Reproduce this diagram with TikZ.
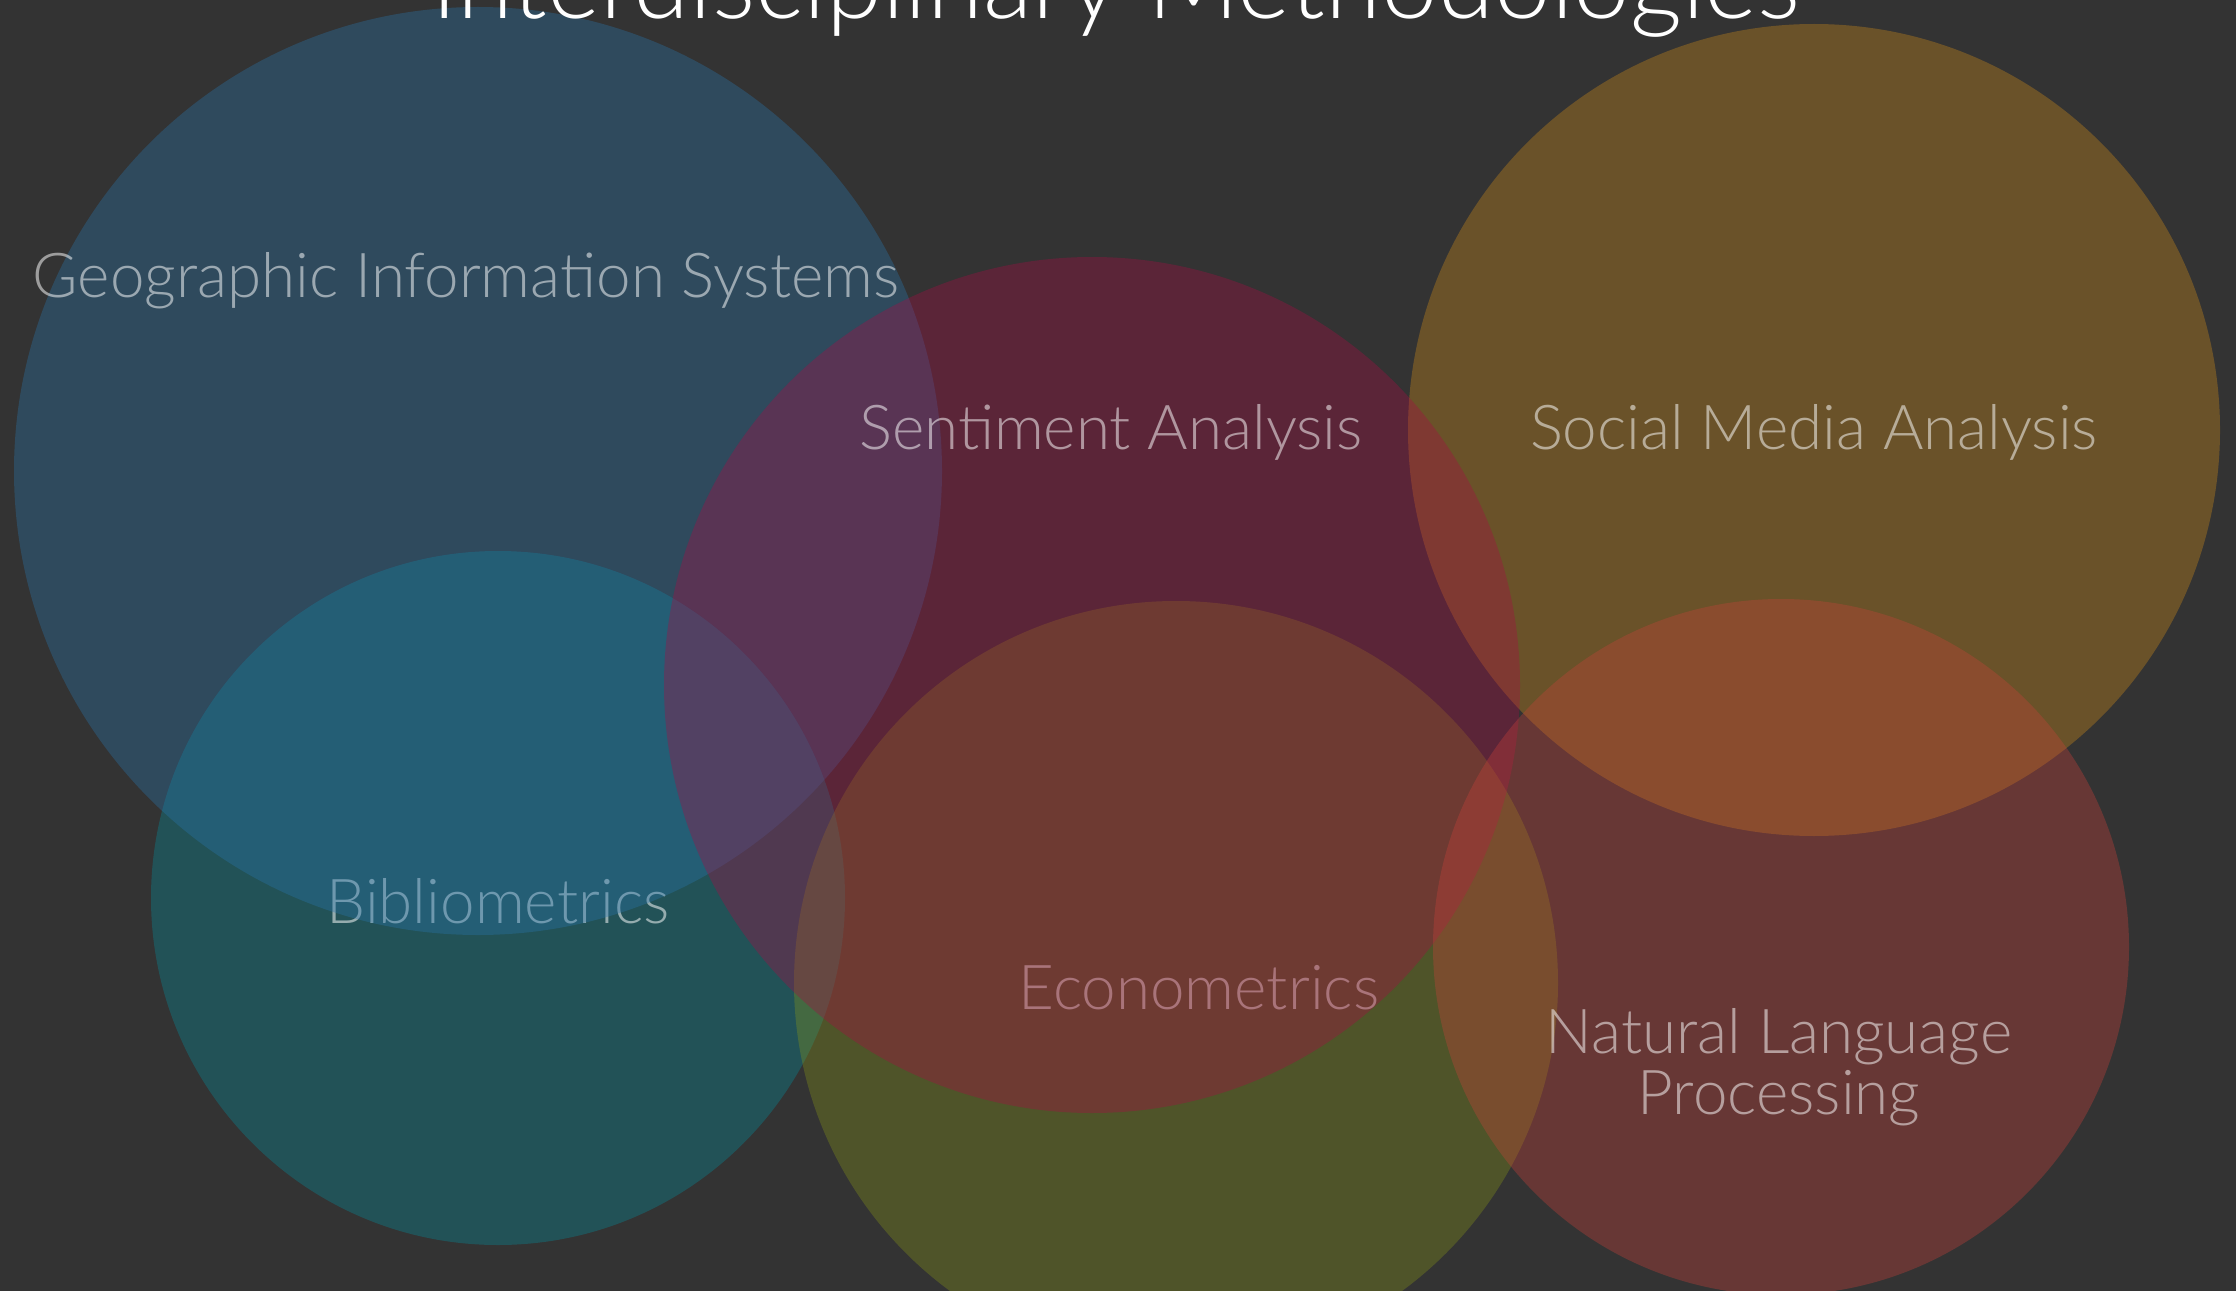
\documentclass[tikz,border=0pt]{standalone}
\usepackage{fontspec}
\setmainfont{Lato}[UprightFont=* Light]
\usepackage{tikz}
\usetikzlibrary{positioning}

\definecolor{bgdark}{RGB}{51,51,51}
\definecolor{geoblue}{RGB}{40,117,174}
\definecolor{bibteal}{RGB}{5,140,157}
\definecolor{sentred}{RGB}{168,11,68}
\definecolor{econolive}{RGB}{134,148,25}
\definecolor{socorange}{RGB}{211,140,25}
\definecolor{nlpred}{RGB}{200,65,57}

\begin{document}
\begin{tikzpicture}[
    x=0.01cm, y=-0.01cm,
    blob/.style={fill opacity=0.35}, % 円は全て半透明
    lbl/.style={text=white, text opacity=0.52, font=\fontsize{17.6}{17.4}\selectfont, align=center}
    ]
\fill[bgdark] (0,0) rectangle (2236,1291);
\useasboundingbox (0,0) rectangle (2236,1291);

\fill[blob, bibteal] (498,898) circle (347);
\node[lbl] (bib) at (498,901) {Bibliometrics};

\fill[blob, geoblue] (478,471) circle (464);
\node[lbl] (geo) at (466,281) {Geographic Information Systems};

\fill[blob, econolive] (1176,983) circle (382);
\node[lbl] (econ) at (1199,988) {Econometrics};

\fill[blob, socorange] (1814,430) circle (406);
\node[lbl] (soc) at (1814,432) {Social Media Analysis};

\fill[blob, sentred] (1092,685) circle (428);
\node[lbl] (sent) at (1111,432) {Sentiment Analysis};

\fill[blob, nlpred] (1781,947) circle (348);
\node[lbl] (nlp) at (1779,1067) {Natural Language\\Processing};

\node[text=white, font=\fontsize{28.9}{29}\selectfont, anchor=base] (title) at (1116,19) {Interdisciplinary Methodologies};
\end{tikzpicture}
\end{document}
